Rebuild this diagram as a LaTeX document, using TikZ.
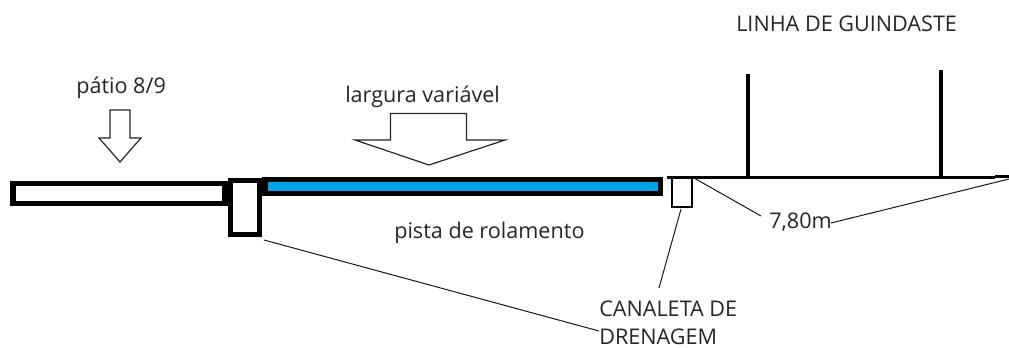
\documentclass[tikz,border=0pt]{standalone}
\usepackage{fontspec}
\setmainfont{Open Sans}
\definecolor{paintblue}{HTML}{00A2E8}
\definecolor{labelgray}{HTML}{262626}
\tikzset{
  px/.style={x=0.75pt,y=-0.75pt},
  lbl/.style={inner sep=0pt,anchor=base west,text=labelgray,font=\fontsize{16.2pt}{20pt}\selectfont},
  thick box/.style={draw=black,line width=4pt,fill=white,line join=miter},
  arrow outline/.style={draw=black!85,line width=0.9pt,fill=white,line join=miter},
  leader/.style={draw=black!90,line width=0.75pt},
  heavy/.style={draw=black,line width=2.9pt},
}
\begin{document}
\begin{tikzpicture}[px]
\path[use as bounding box,fill=white] (0,0) rectangle (1009,347);
% labels
\node[lbl] (linha) at (736,31) {LINHA DE GUINDASTE};
\node[lbl] (patio) at (76,93) {pátio 8/9};
\node[lbl] (largura) at (345,102) {largura variável};
\node[lbl] (pista) at (394,238) {pista de rolamento};
\node[lbl] (medida) at (769,228) {7,80m};
\node[lbl] (canaleta) at (599,316) {CANALETA DE};
\node[lbl] (drenagem) at (599,344) {DRENAGEM};
% block arrows
\draw[arrow outline] (110,110) -- (130,110) -- (130,138) -- (141,138) -- (120,162) -- (99,138) -- (110,138) -- cycle;
\draw[arrow outline] (390.5,113.5) -- (466.5,113.5) -- (466.5,140) -- (505,140) -- (429,165) -- (355,140) -- (390.5,140) -- cycle;
% slabs
\draw[thick box] (13,183.5) rectangle (225,203.5);
\draw[thick box,fill=paintblue] (265,179.5) rectangle (660.5,193.5);
\draw[thick box] (230.5,180.5) rectangle (259.5,234.5);
% right ground line and channel
\draw[draw=black,line width=2pt,fill=white] (672,177) rectangle (692,207);
\draw[heavy] (667,177.5) -- (995,177.5);
\draw[draw=black,line width=2.8pt] (995,176.5) -- (1009,176.5);
\coordinate (postA) at (748,177);
\coordinate (postB) at (941,177);
\draw[heavy] (postA) -- (748,74);
\draw[heavy] (postB) -- (941,70);
% leaders
\coordinate (grateLeft) at (264,240);
\coordinate (grateLeftEnd) at (599,331);
\coordinate (channelBottom) at (681,209);
\coordinate (channelEnd) at (659,288);
\coordinate (dimLeft) at (694,178);
\coordinate (dimLeftEnd) at (761,216);
\coordinate (dimRightStart) at (831,223);
\coordinate (dimRightEnd) at (1009,179);
\draw[leader] (grateLeft) -- (grateLeftEnd);
\draw[leader] (channelBottom) -- (channelEnd);
\draw[leader] (dimLeft) -- (dimLeftEnd);
\draw[leader] (dimRightStart) -- (dimRightEnd);
\end{tikzpicture}
\end{document}
